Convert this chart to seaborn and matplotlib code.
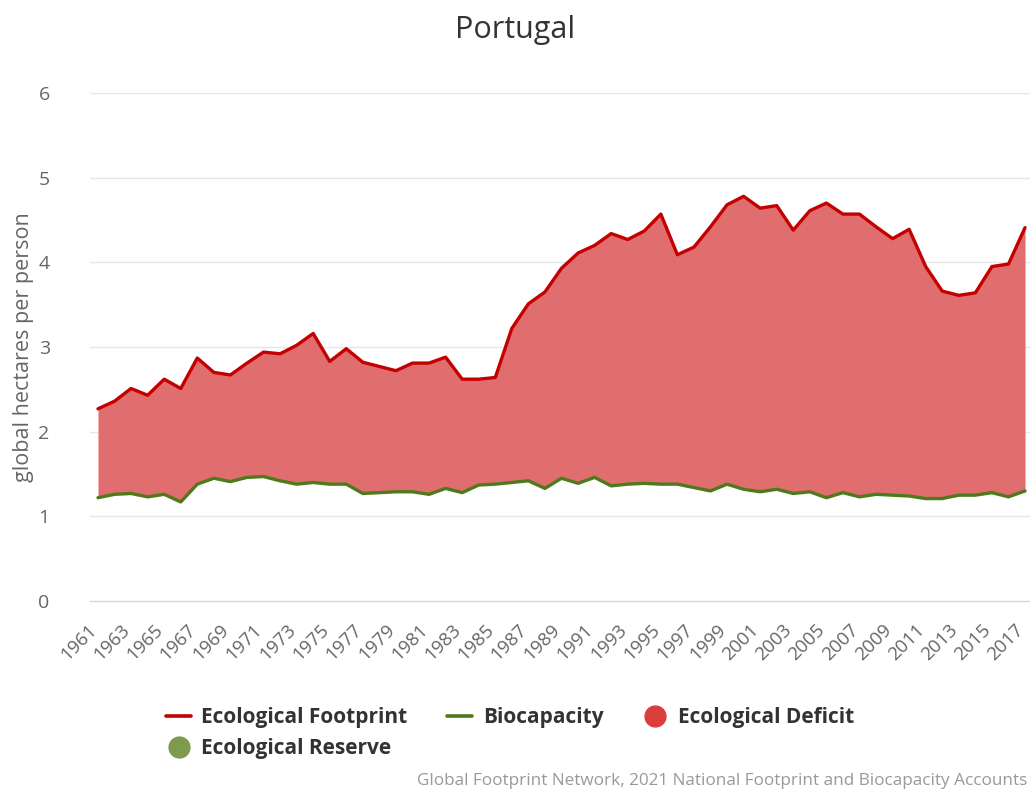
import matplotlib
matplotlib.use("Agg")
import matplotlib.pyplot as plt
import matplotlib.transforms as mtransforms
from matplotlib.lines import Line2D
import seaborn as sns
import pandas as pd

years = list(range(1961, 2018))

footprint = [2.27, 2.36, 2.51, 2.43, 2.62, 2.51, 2.87, 2.70, 2.67, 2.81,
             2.94, 2.92, 3.02, 3.16, 2.83, 2.98, 2.82, 2.77, 2.72, 2.81,
             2.81, 2.88, 2.62, 2.62, 2.64, 3.22, 3.51, 3.65, 3.93, 4.11,
             4.20, 4.34, 4.27, 4.37, 4.57, 4.09, 4.18, 4.42, 4.68, 4.78,
             4.64, 4.67, 4.38, 4.61, 4.70, 4.57, 4.57, 4.42, 4.28, 4.39,
             3.95, 3.66, 3.61, 3.64, 3.95, 3.98, 4.41]

biocapacity = [1.22, 1.26, 1.27, 1.23, 1.26, 1.17, 1.38, 1.45, 1.41, 1.46,
               1.47, 1.42, 1.38, 1.40, 1.38, 1.38, 1.27, 1.28, 1.29, 1.29,
               1.26, 1.33, 1.28, 1.37, 1.38, 1.40, 1.42, 1.33, 1.45, 1.39,
               1.46, 1.36, 1.38, 1.39, 1.38, 1.38, 1.34, 1.30, 1.38, 1.32,
               1.29, 1.32, 1.27, 1.29, 1.22, 1.28, 1.23, 1.26, 1.25, 1.24,
               1.21, 1.21, 1.25, 1.25, 1.28, 1.23, 1.30]

yticks = [0, 1, 2, 3, 4, 5, 6]
xticks = list(range(1961, 2018, 2))

df = pd.DataFrame({'year': years, 'footprint': footprint, 'biocapacity': biocapacity})

sns.set_style("white")
plt.rcParams['font.family'] = ['Open Sans', 'DejaVu Sans']

red_line = '#c40000'
red_fill = '#e06e6f'
red_dot = '#d93d3e'
green_line = '#4f7a1c'
green_dot = '#7d9a4f'

fig = plt.figure(figsize=(10.3, 7.91), dpi=100)
ax = fig.add_axes([0.0874, 0.2402, 0.9126, 0.6422])

# deficit area between the two lines
ax.fill_between(df['year'], df['biocapacity'], df['footprint'],
                where=df['footprint'] >= df['biocapacity'],
                color=red_fill, linewidth=0, zorder=2)

sns.lineplot(data=df, x='year', y='footprint', color=red_line, linewidth=2.4, ax=ax, zorder=3)
sns.lineplot(data=df, x='year', y='biocapacity', color=green_line, linewidth=2.4, ax=ax, zorder=3)

ax.set_xlim(1960.52, 2017.3)
ax.set_ylim(0, 6)
ax.set_yticks(yticks)
ax.set_yticklabels([str(v) for v in yticks], fontsize=14, color='#666666')
ax.set_xticks(xticks)
ax.set_xticklabels([str(v) for v in xticks], rotation=45, ha='right', va='center',
                   rotation_mode='anchor', fontsize=13.5, color='#666666')
ax.tick_params(axis='x', length=10, width=1, color='#ccd6eb', pad=9)
ax.tick_params(axis='y', length=0, pad=29)

# nudge the rotated year labels a little to the left so the last one fits
shift = mtransforms.ScaledTranslation(-4 / 100, 0, fig.dpi_scale_trans)
for lbl in ax.get_xticklabels():
    lbl.set_transform(lbl.get_transform() + shift)

for v in yticks[1:]:
    ax.axhline(v, color='#e6e6e6', linewidth=1, zorder=1)

for side in ['top', 'right', 'left']:
    ax.spines[side].set_visible(False)
ax.spines['bottom'].set_color('#ccd6eb')
ax.spines['bottom'].set_linewidth(1)

ax.set_xlabel('')
ax.set_ylabel('global hectares per person', fontsize=15.5, color='#666666', labelpad=3)

fig.text(0.5, 0.962, 'Portugal', ha='center', va='center', fontsize=22, color='#333333')

handles = [
    Line2D([], [], color=red_line, linewidth=2.6),
    Line2D([], [], marker='o', linestyle='', markersize=15, color=green_dot),
    Line2D([], [], color=green_line, linewidth=2.6),
    Line2D([], [], marker='o', linestyle='', markersize=15, color=red_dot),
]
labels = ['Ecological Footprint', 'Ecological Reserve', 'Biocapacity', 'Ecological Deficit']
leg = fig.legend(handles, labels, ncol=3, loc='upper left', bbox_to_anchor=(0.143, 0.13),
                 frameon=False, handlelength=1.2, handletextpad=0.5, columnspacing=1.9,
                 labelspacing=0.5, prop={'weight': 'bold', 'size': 15})
for t in leg.get_texts():
    t.set_color('#333333')

fig.text(0.997, 0.002, 'Global Footprint Network, 2021 National Footprint and Biocapacity Accounts',
         ha='right', va='bottom', fontsize=12.3, color='#999999')

fig.savefig('out.png', dpi=100)
